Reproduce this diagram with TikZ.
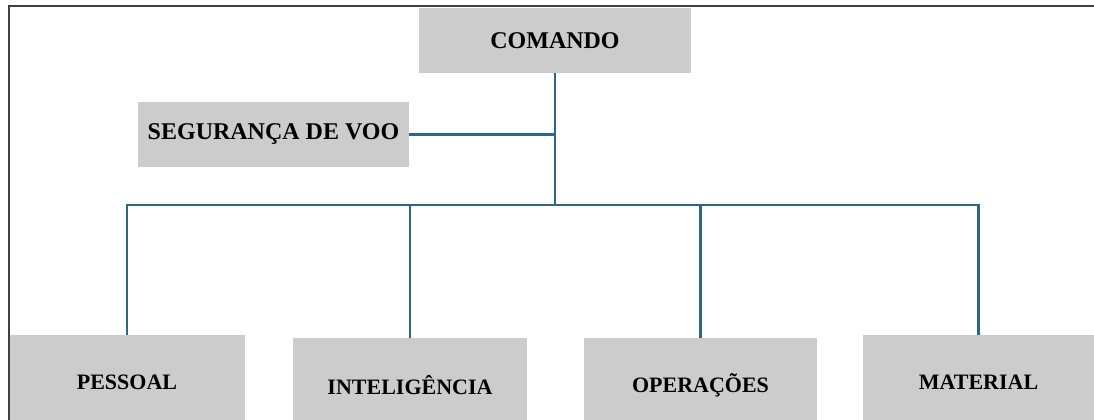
\documentclass[tikz,border=0pt]{standalone}
\usepackage{fontspec}
\setmainfont{Liberation Serif}
\usepackage{tikz}

\definecolor{linkblue}{RGB}{44,104,134}
\definecolor{boxgray}{RGB}{204,204,204}

\begin{document}
\begin{tikzpicture}[x=0.5pt,y=-0.5pt,
    unit/.style={rectangle,fill=boxgray,inner sep=0pt,font=\bfseries\fontsize{12}{14}\selectfont},
    sector/.style={unit,minimum height=47pt,font=\bfseries\fontsize{11}{13}\selectfont},
    link/.style={draw=linkblue,line width=1.4pt}]

    \useasboundingbox (0,0) rectangle (1094,419);
    \clip (0,0) rectangle (1094,419);

    % frame
    \draw[black!75,line width=1pt] (9,430) -- (9,6) -- (1100,6);

    \node[unit,minimum width=136pt,minimum height=32.5pt]   (cmd) at (555,40.5)  {COMANDO};
    \node[unit,minimum width=135.5pt,minimum height=32.5pt] (seg) at (273.5,134.5) {\raisebox{2pt}{SEGURANÇA DE VOO}};

    \node[sector,minimum width=117.5pt] (pes) at (127,382) {PESSOAL};
    \node[sector,minimum width=117pt]   (int) at (410,385) {INTELIGÊNCIA};
    \node[sector,minimum width=116.5pt] (ope) at (700.5,385) {OPERAÇÕES};
    \node[sector,minimum width=115.5pt] (mat) at (978.5,382) {MATERIAL};

    \coordinate (bus) at (555,205);

    \draw[link] (cmd.south) -- (bus);
    \draw[link] (seg.east) -- (seg.east -| bus);
    \draw[link] (pes.north) |- (bus);
    \draw[link] (bus) -| (mat.north);
    \draw[link] (int.north) -- (int.north |- bus);
    \draw[link] (ope.north) -- (ope.north |- bus);
\end{tikzpicture}
\end{document}
